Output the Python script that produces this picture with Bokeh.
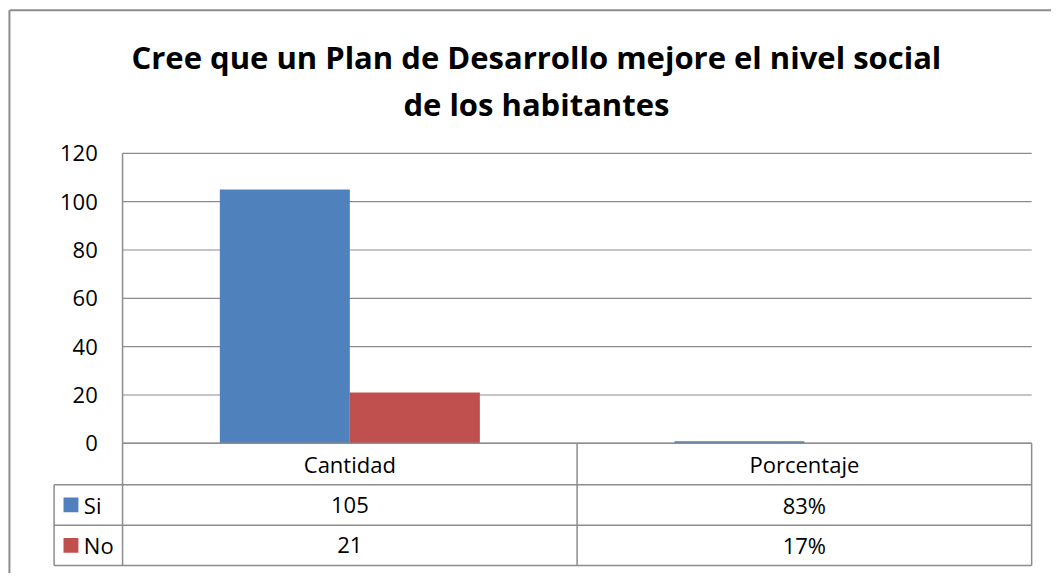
from bokeh.plotting import figure
from bokeh.models import Range1d, ColumnDataSource
from bokeh.transform import dodge
from bokeh.core.properties import value
from bokeh.embed import file_html
from bokeh.resources import INLINE

# ---------------- data ----------------
title_lines = ["Cree que un Plan de Desarrollo mejore el nivel social", "de los habitantes"]
categories = ["Cantidad", "Porcentaje"]
series_names = ["Si", "No"]
si_values = [105, 0.83]
no_values = [21, 0.17]
si_labels = ["105", "83%"]
no_labels = ["21", "17%"]
y_ticks = [0, 20, 40, 60, 80, 100, 120]
colors = ["#4F81BD", "#C0504D"]

# ---------------- layout (reference-image pixels) ----------------
W, H = 1051, 573
REF_W, REF_H = 1059, 581
PLOT_L, PLOT_R, PLOT_T, PLOT_B = 123, 1039, 155, 449
YMAX = 120
TBL_L = 54
ROW_Y = [449, 491, 532, 573]
GRAY = "#8c8c8c"
FONT = "Open Sans"

ncat = len(categories)
ux = (PLOT_R - PLOT_L) / ncat
uy = (PLOT_B - PLOT_T) / YMAX

p = figure(width=W, height=H, output_backend="svg", toolbar_location=None,
           x_axis_location=None, y_axis_location=None, min_border=0,
           x_range=Range1d((0 - PLOT_L) / ux, (REF_W - PLOT_L) / ux),
           y_range=Range1d((PLOT_B - REF_H) / uy, PLOT_B / uy),
           outline_line_color=None, background_fill_color="white",
           border_fill_color="white")
p.grid.visible = False
p.extra_x_ranges = {"px": Range1d(0, REF_W)}
p.extra_y_ranges = {"px": Range1d(REF_H, 0)}

# outer chart border
p.segment(x0=[9, 9], y0=[10, 10], x1=[9, REF_W + 5], y1=[REF_H + 5, 10],
          line_color=GRAY, line_width=2, x_range_name="px", y_range_name="px")

# gridlines
p.segment(x0=0, x1=ncat, y0=y_ticks, y1=y_ticks, line_color=GRAY, line_width=1.2)

# bars
bw = 131 / ux
src = ColumnDataSource(dict(x=[i + 0.5 for i in range(ncat)], si=si_values, no=no_values))
p.vbar(x=dodge("x", -bw / 2, range=p.x_range), top="si", width=bw, bottom=0,
       fill_color=colors[0], line_color=None, source=src)
p.vbar(x=dodge("x", bw / 2, range=p.x_range), top="no", width=bw, bottom=0,
       fill_color=colors[1], line_color=None, source=src)

# y tick labels
p.text(x=[98] * len(y_ticks), y=y_ticks, text=[str(t) for t in y_ticks],
       text_align="right", text_baseline="middle", text_font=value(FONT),
       text_font_size="22px", text_color="#000000", x_range_name="px")

# table lines
hx0 = [PLOT_L, TBL_L, TBL_L, TBL_L]
p.segment(x0=hx0, x1=[PLOT_R] * 4, y0=ROW_Y, y1=ROW_Y, line_color=GRAY,
          line_width=1.5, x_range_name="px", y_range_name="px")
vx = [TBL_L, PLOT_L, (PLOT_L + PLOT_R) / 2, PLOT_R]
vy0 = [ROW_Y[1], PLOT_T, ROW_Y[0], ROW_Y[0]]
p.segment(x0=vx, x1=vx, y0=vy0, y1=[ROW_Y[3]] * 4, line_color=GRAY,
          line_width=1.5, x_range_name="px", y_range_name="px")

# table texts
row_mid = [(ROW_Y[i] + ROW_Y[i + 1]) / 2 for i in range(3)]
cx = [i + 0.5 for i in range(ncat)]
for texts, ym in [(categories, row_mid[0]), (si_labels, row_mid[1]), (no_labels, row_mid[2])]:
    p.text(x=cx, y=[ym] * ncat, text=texts, text_align="center", text_baseline="middle",
           text_font=value(FONT), text_font_size="22px", text_color="#000000",
           y_range_name="px")

# legend keys in table
p.rect(x=[71, 71], y=row_mid[1:], width=15, height=15, fill_color=colors,
       line_color=None, x_range_name="px", y_range_name="px")
p.text(x=[84, 84], y=row_mid[1:], text=series_names, text_align="left",
       text_baseline="middle", text_font=value(FONT), text_font_size="22px",
       text_color="#000000", x_range_name="px", y_range_name="px")

# title
p.text(x=[540, 540], y=[57, 105], text=title_lines, text_align="center",
       text_baseline="middle", text_font=value(FONT), text_font_size="31px",
       text_font_style="bold", text_color="#000000", x_range_name="px", y_range_name="px")

open("out.html", "w").write(file_html(p, INLINE))
